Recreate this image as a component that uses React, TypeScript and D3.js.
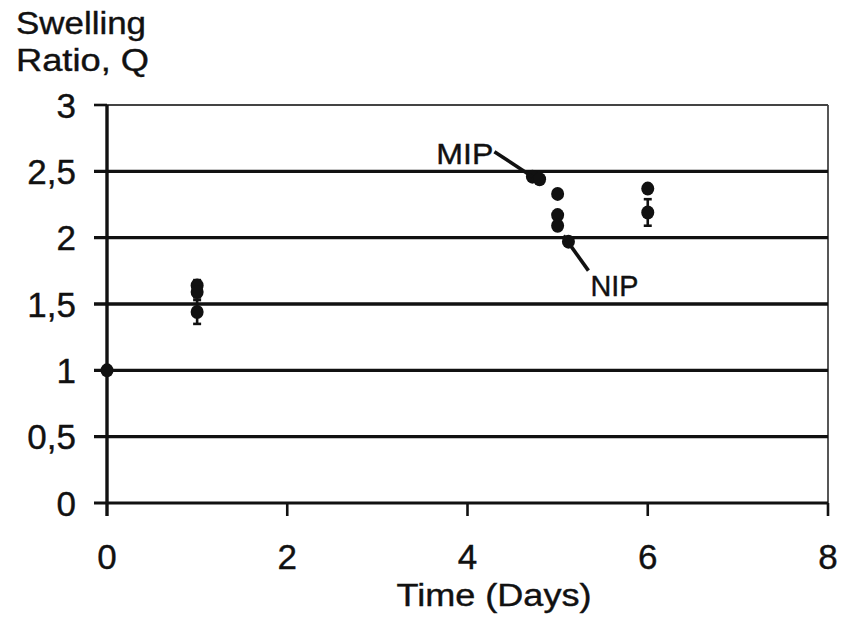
import React from "react";
import * as d3 from "d3";

const days = [0, 1, 1, 1, 4.72, 4.8, 5, 5, 5, 5.12, 6, 6];
const ratio = [1.0, 1.64, 1.59, 1.44, 2.46, 2.44, 2.33, 2.17, 2.09, 1.97, 2.37, 2.19];
const errs = [0, 0.04, 0.04, 0.09, 0.02, 0.02, 0.02, 0.02, 0.03, 0.02, 0.02, 0.1];
const xTicks = [0, 2, 4, 6, 8];
const yTicks = [0, 0.5, 1, 1.5, 2, 2.5, 3];
const yTickLabels = ["0", "0,5", "1", "1,5", "2", "2,5", "3"];
const annotations = [
  { label: "MIP", index: 4 },
  { label: "NIP", index: 9 },
];

const W = 841;
const H = 617;
const left = 107;
const right = 828;
const top = 105;
const bottom = 503;

export default function App() {
  const x = d3.scaleLinear().domain([0, 8]).range([left, right]);
  const y = d3.scaleLinear().domain([0, 3]).range([bottom, top]);
  const font = "'Liberation Sans', Arial, sans-serif";
  const ink = "#111";

  const mip = annotations[0];
  const nip = annotations[1];
  const mx = x(days[mip.index]);
  const my = y(ratio[mip.index]);
  const nx = x(days[nip.index]);
  const ny = y(ratio[nip.index]);

  return (
    <svg
      width={W}
      height={H}
      style={{ position: "fixed", left: 0, top: 0, background: "#fff" }}
      fontFamily={font}
    >
      <rect x={0} y={0} width={W} height={H} fill="#fff" />
      {/* top & right frame */}
      <line x1={left} x2={right} y1={top} y2={top} stroke="#444" strokeWidth={1.8} />
      <line x1={right} x2={right} y1={top} y2={bottom + 13} stroke="#444" strokeWidth={1.8} />
      {/* gridlines */}
      {yTicks.slice(1, -1).map((t) => (
        <line key={"g" + t} x1={left - 13} x2={right} y1={y(t)} y2={y(t)} stroke={ink} strokeWidth={3.4} />
      ))}
      {/* bottom axis */}
      <line x1={left - 13} x2={right} y1={bottom} y2={bottom} stroke={ink} strokeWidth={2.8} />
      <line x1={left - 13} x2={left} y1={top} y2={top} stroke={ink} strokeWidth={2.6} />
      {/* y axis */}
      <line x1={left} x2={left} y1={top} y2={bottom + 13} stroke={ink} strokeWidth={3.4} />
      {/* x ticks */}
      {xTicks.slice(1).map((t) => (
        <line key={"xt" + t} x1={x(t)} x2={x(t)} y1={bottom} y2={bottom + 13} stroke={ink} strokeWidth={2.6} />
      ))}
      {/* y tick labels */}
      {yTicks.map((t, i) => (
        <text key={"yl" + t} x={76} y={y(t)} dy="0.36em" textAnchor="end" fontSize={35} fill={ink} stroke={ink} strokeWidth={0.4}>
          {yTickLabels[i]}
        </text>
      ))}
      {/* x tick labels */}
      {xTicks.map((t) => (
        <text key={"xl" + t} x={x(t)} y={569} textAnchor="middle" fontSize={35} fill={ink} stroke={ink} strokeWidth={0.4}>
          {t}
        </text>
      ))}
      <text x={494} y={606} textAnchor="middle" fontSize={31} fill={ink} stroke={ink} strokeWidth={0.4} textLength={195} lengthAdjust="spacingAndGlyphs">
        Time (Days)
      </text>
      <text x={16} y={34} fontSize={31} fill={ink} stroke={ink} strokeWidth={0.4} textLength={130} lengthAdjust="spacingAndGlyphs">
        Swelling
      </text>
      <text x={16} y={71} fontSize={31} fill={ink} stroke={ink} strokeWidth={0.4} textLength={133} lengthAdjust="spacingAndGlyphs">
        Ratio, Q
      </text>
      {/* error bars */}
      {days.map((d, i) =>
        errs[i] > 0 ? (
          <g key={"e" + i} stroke={ink} strokeWidth={2.6}>
            <line x1={x(d)} x2={x(d)} y1={y(ratio[i] - errs[i])} y2={y(ratio[i] + errs[i])} />
            <line x1={x(d) - 4} x2={x(d) + 4} y1={y(ratio[i] - errs[i])} y2={y(ratio[i] - errs[i])} />
            <line x1={x(d) - 4} x2={x(d) + 4} y1={y(ratio[i] + errs[i])} y2={y(ratio[i] + errs[i])} />
          </g>
        ) : null
      )}
      {/* points */}
      {days.map((d, i) => (
        <ellipse key={"p" + i} cx={x(d)} cy={y(ratio[i])} rx={6.5} ry={7} fill={ink} />
      ))}
      {/* annotations */}
      <line x1={mx} x2={mx - 38} y1={my} y2={my - 25} stroke={ink} strokeWidth={3.6} />
      <text x={mx - 96} y={my - 13} fontSize={29} fill={ink} stroke={ink} strokeWidth={0.4} textLength={57} lengthAdjust="spacingAndGlyphs">
        {mip.label}
      </text>
      <line x1={nx - 5} x2={nx + 20} y1={ny - 6} y2={ny + 29} stroke={ink} strokeWidth={3.6} />
      <text x={nx + 22} y={ny + 54} fontSize={29} fill={ink} stroke={ink} strokeWidth={0.4} textLength={48} lengthAdjust="spacingAndGlyphs">
        {nip.label}
      </text>
    </svg>
  );
}
